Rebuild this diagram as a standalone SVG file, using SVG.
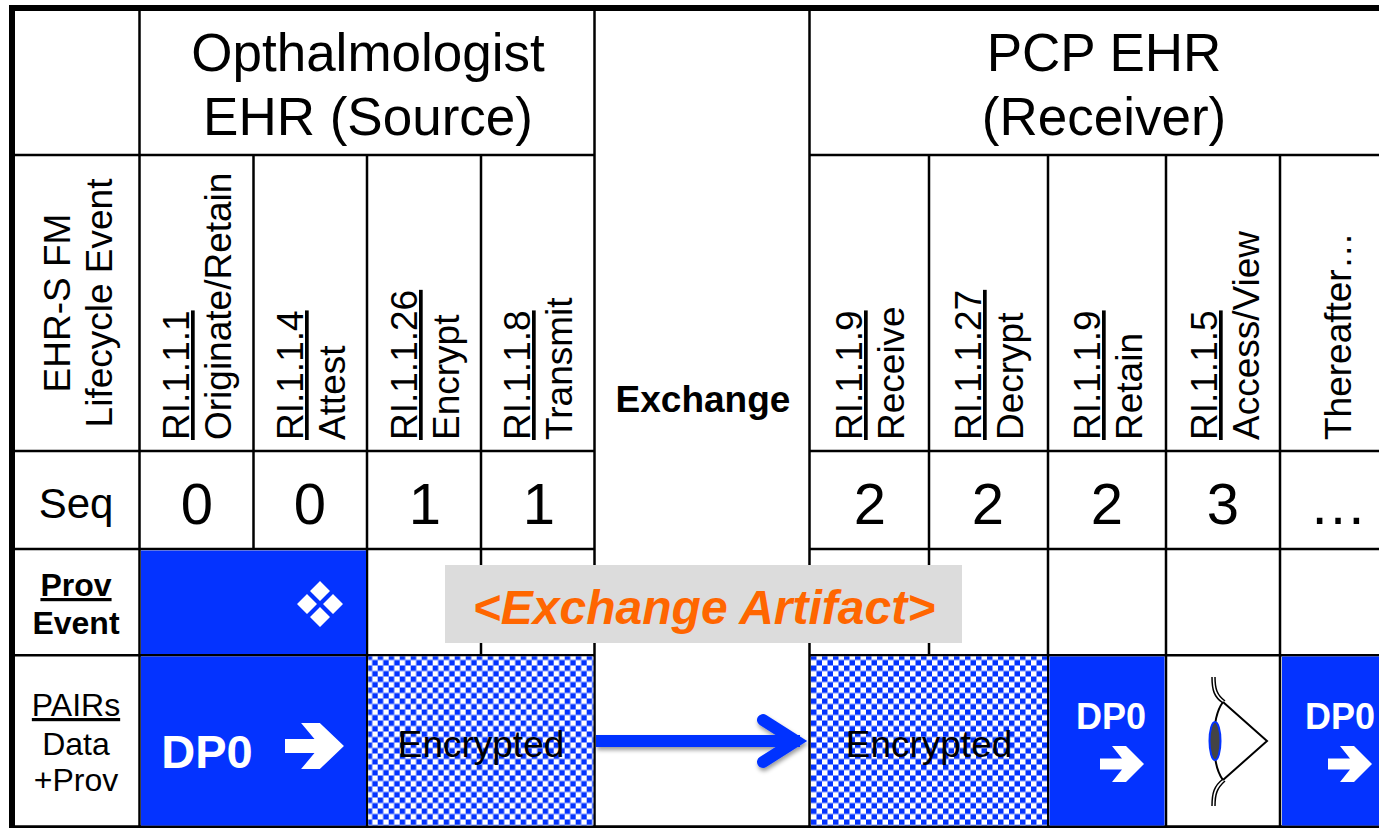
<svg xmlns="http://www.w3.org/2000/svg" width="1379" height="828" viewBox="0 0 1379 828">
<style>
text{font-family:"Liberation Sans",Arial,sans-serif;fill:#000}
.m{text-anchor:middle}
.h{font-size:53px}
.r{font-size:37px}
.d{font-size:58px;text-anchor:middle}
.u{text-decoration:underline}
.l{font-size:32px;text-anchor:middle}
.w{fill:#fff;font-weight:bold;text-anchor:middle}
.g{stroke:#000;stroke-width:2.5;fill:none}
.b{fill:#0433ff}
.a{fill:#fff}
.e{fill:none;stroke:#000;stroke-width:2}
</style>
<defs>
<pattern id="chk" patternUnits="userSpaceOnUse" x="366.700" y="654.500" width="11" height="11">
<rect width="11" height="11" fill="#fff"/>
<rect width="5.500" height="5.500" class="b"/>
<rect x="5.500" y="5.500" width="5.500" height="5.500" class="b"/>
</pattern>
<pattern id="chk2" href="#chk" x="811" y="654.500"/>
<path id="ar" d="M0 -5.500H22L12 -18H26L44 0L26 18H12L22 5.500H0Z" fill="#fff"/>
<filter id="sh" x="-5%" y="-30%" width="110%" height="170%"><feDropShadow dx="1" dy="3" stdDeviation="2" flood-color="#000" flood-opacity=".4"/></filter>
</defs>
<rect width="1379" height="828" fill="#fff"/>

<g id="grid">
<path class="g" d="M12 155H594M809 155H1379M12 451H594M809 451H1379M12 549H594M809 549H1379M12 655.300H594M809 655.300H1379"/>
<path class="g" d="M139.500 9V826M594.500 9V826M809.500 9V826M253.500 155V549M367 155V826M481 155V656M929 155V656M1048 155V826M1166 155V826M1280 155V826"/>
</g>

<g id="blue-prov"><rect class="b" x="141" y="550.500" width="225" height="103.500"/>
<path class="a" d="M320 581L330 591L320 601L310 591ZM307 594L317 604L307 614L297 604ZM333 594L343 604L333 614L323 604ZM320 607L330 617L320 627L310 617Z"/></g>
<g id="gray-label"><rect x="445" y="565" width="517" height="78" fill="#dcdcdc"/>
<text x="704" y="624" class="m" style="font-size:48px;font-weight:bold;font-style:italic;fill:#ff6600">&lt;Exchange Artifact&gt;</text></g>

<g id="outer"><path fill="none" stroke="#000" stroke-width="6" d="M12 826V8H1379"/><path fill="none" stroke="#000" stroke-width="3" d="M9 826.800H1379"/></g>

<g id="header-source"><text x="368" y="71" class="m h">Opthalmologist</text><text x="368" y="135" class="m h">EHR (Source)</text></g>
<g id="header-receiver"><text x="1104" y="71" class="m h">PCP EHR</text><text x="1104" y="135" class="m h">(Receiver)</text></g>
<g id="lifecycle"><text transform="translate(70 303) rotate(-90)" class="m r">EHR-S FM</text><text transform="translate(112 303) rotate(-90)" class="m r">Lifecycle Event</text></g>

<g id="ev-originate"><text transform="translate(189 440) rotate(-90)" class="r u">RI.1.1.1</text><text transform="translate(231 440) rotate(-90)" class="r">Originate/Retain</text></g>
<g id="ev-attest"><text transform="translate(303 440) rotate(-90)" class="r u">RI.1.1.4</text><text transform="translate(345 440) rotate(-90)" class="r">Attest</text></g>
<g id="ev-encrypt"><text transform="translate(417 440) rotate(-90)" class="r u">RI.1.1.26</text><text transform="translate(459 440) rotate(-90)" class="r">Encrypt</text></g>
<g id="ev-transmit"><text transform="translate(530 440) rotate(-90)" class="r u">RI.1.1.8</text><text transform="translate(572 440) rotate(-90)" class="r">Transmit</text></g>
<g id="ev-receive"><text transform="translate(862 440) rotate(-90)" class="r u">RI.1.1.9</text><text transform="translate(904 440) rotate(-90)" class="r">Receive</text></g>
<g id="ev-decrypt"><text transform="translate(981 440) rotate(-90)" class="r u">RI.1.1.27</text><text transform="translate(1023 440) rotate(-90)" class="r">Decrypt</text></g>
<g id="ev-retain"><text transform="translate(1100 440) rotate(-90)" class="r u">RI.1.1.9</text><text transform="translate(1142 440) rotate(-90)" class="r">Retain</text></g>
<g id="ev-access"><text transform="translate(1217 440) rotate(-90)" class="r u">RI.1.1.5</text><text transform="translate(1259 440) rotate(-90)" class="r">Access/View</text></g>
<g id="ev-thereafter"><text transform="translate(1351 440) rotate(-90)" class="r">Thereafter…</text></g>

<g id="exchange"><text x="703" y="412" class="m" style="font-size:37px;font-weight:bold">Exchange</text></g>

<g id="seq"><text x="76" y="518" class="m" style="font-size:42px">Seq</text>
<text x="197" y="524" class="d">0</text><text x="310" y="524" class="d">0</text><text x="425" y="524" class="d">1</text><text x="539" y="524" class="d">1</text>
<text x="870" y="524" class="d">2</text><text x="988" y="524" class="d">2</text><text x="1107" y="524" class="d">2</text><text x="1223" y="524" class="d">3</text><text x="1338" y="524" class="d">…</text></g>

<g id="prov-event"><text x="76" y="596" class="l u" style="font-weight:bold">Prov</text><text x="76" y="634" class="l" style="font-weight:bold">Event</text></g>
<g id="pairs"><text x="76" y="716" class="l u">PAIRs</text><text x="76" y="755" class="l">Data</text><text x="76" y="791" class="l">+Prov</text></g>

<g id="dp0-source"><rect class="b" x="141" y="656.500" width="225" height="169"/><text x="207" y="768" class="w" style="font-size:47px">DP0</text><use href="#ar" transform="translate(285 746) scale(1.340 1.280)"/></g>
<g id="enc-source"><rect fill="url(#chk)" x="368.300" y="656.500" width="225" height="169"/><text x="481" y="757" class="m r">Encrypted</text></g>
<g id="enc-receiver"><rect fill="url(#chk)" x="811" y="656.500" width="236" height="169" style="fill:url(#chk2)"/><text x="929" y="757" class="m r">Encrypted</text></g>
<g id="dp0-receiver"><rect class="b" x="1049.500" y="656.500" width="115" height="169"/><text x="1111" y="729" class="w" style="font-size:36px">DP0</text><use href="#ar" x="1100" y="764"/></g>
<g id="eye">
<path class="e" d="M1223 702L1267 741L1223 780M1223 702C1217 710 1214 722 1214 741C1214 760 1217 772 1223 780"/>
<path class="e" style="stroke-width:1.500" d="M1212 677C1212 690 1214 697 1223 703M1215 677C1215 689 1217 695 1225 701M1212 806C1212 793 1214 786 1223 779M1215 806C1215 794 1217 788 1225 781"/>
<ellipse cx="1215" cy="741" rx="5.500" ry="19" fill="#444" stroke="#0433ff" stroke-width="2"/>
</g>
<g id="dp0-after"><rect class="b" x="1282" y="656.500" width="97" height="169"/><text x="1340" y="729" class="w" style="font-size:36px">DP0</text><use href="#ar" x="1328" y="764"/></g>

<g id="connectors" filter="url(#sh)">
<path d="M596 741H800" stroke="#0433ff" stroke-width="12" fill="none"/>
<path d="M763 720L796 741L763 762" stroke="#0433ff" stroke-width="12" fill="none" stroke-linecap="round" stroke-linejoin="miter"/>
</g>
</svg>
